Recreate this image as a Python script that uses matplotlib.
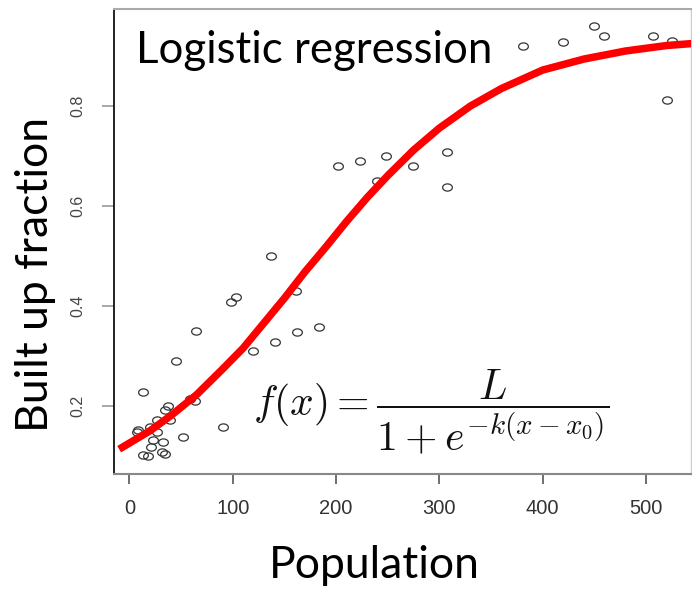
import numpy as np
import matplotlib
matplotlib.use('Agg')
import matplotlib.pyplot as plt
from matplotlib.path import Path

# ---- data ----
pop = [381, 419.6, 449.7, 459.3, 506.8, 525.2, 520.4,
       201.8, 223.1, 248.3, 239.6, 274.4, 307.4, 307.4,
       137, 103.1, 98.3, 64.4, 162.1, 183.4, 140.9, 161.2, 119.6,
       45, 13.1, 58.6, 63.4, 90.5, 37.3, 34.4, 39.2, 26.6, 19.8,
       8.2, 7.3, 26.6, 51.8, 22.7, 32.4, 20.8, 31.5, 34.4, 13.1, 17.9]
built = [0.919, 0.927, 0.959, 0.939, 0.939, 0.929, 0.811,
         0.679, 0.689, 0.699, 0.649, 0.679, 0.707, 0.637,
         0.499, 0.417, 0.407, 0.349, 0.347, 0.357, 0.327, 0.429, 0.309,
         0.289, 0.227, 0.213, 0.209, 0.157, 0.199, 0.191, 0.171, 0.171, 0.157,
         0.151, 0.147, 0.147, 0.137, 0.131, 0.127, 0.117, 0.107, 0.103, 0.101, 0.099]

curve_x = [-10, 20, 40, 65, 90, 110, 130, 150, 170, 190, 210, 230, 250,
           275, 300, 330, 360, 400, 440, 480, 520, 545]
curve_y = [0.113, 0.150, 0.180, 0.222, 0.273, 0.315, 0.365, 0.415, 0.468, 0.517,
           0.568, 0.616, 0.660, 0.711, 0.755, 0.799, 0.834, 0.871, 0.893, 0.909,
           0.920, 0.924]

x_ticks = [0, 100, 200, 300, 400, 500]
y_ticks = [0.2, 0.4, 0.6, 0.8]
y_tick_labels = ["0.2", "0.4", "0.6", "0.8"]

title_text = "Logistic regression"
x_label = "Population"
y_label = "Built up fraction"
formula = r"$f(x) = \dfrac{L}{1+e^{-k(x-x_0)}}$"

# ---- figure ----
W, H = 692, 592
fig = plt.figure(figsize=(W / 100, H / 100), dpi=100)
fig.patch.set_facecolor('white')

ax = fig.add_axes([114 / W, 1 - 474 / H, 577 / W, (474 - 9) / H])
ax.set_xlim(-15, 543.5)
ax.set_ylim(0.0634, 0.993)

# horizontally stretched open circle marker (like the reference)
t = np.linspace(0, 2 * np.pi, 40)
ell = Path(np.column_stack([1.35 * np.cos(t), np.sin(t)]))

ax.plot(pop, built, linestyle='none', marker=ell, markersize=7,
        markerfacecolor='none', markeredgecolor='#333333', markeredgewidth=0.9,
        zorder=2)
ax.plot(curve_x, curve_y, color='#ff0000', linewidth=5.4,
        solid_capstyle='butt', solid_joinstyle='round', zorder=3)

ax.set_xticks(x_ticks)
ax.set_xticklabels([str(v) for v in x_ticks])
ax.set_yticks(y_ticks)
ax.set_yticklabels(y_tick_labels, rotation=90, va='center')

ax.tick_params(axis='x', direction='out', length=7, width=1.2, color='#555555',
               labelsize=14.5, labelcolor='#333333', pad=11)
ax.tick_params(axis='y', direction='out', length=8.5, width=1.2, color='#999999',
               labelsize=11.5, labelcolor='#444444', pad=12)
for lab in ax.get_xticklabels() + ax.get_yticklabels():
    lab.set_family('Liberation Sans')

ax.spines['left'].set_color('#111111')
ax.spines['left'].set_linewidth(1.3)
ax.spines['top'].set_color('#aaaaaa')
ax.spines['top'].set_linewidth(1.5)
ax.spines['bottom'].set_color('#888888')
ax.spines['bottom'].set_linewidth(1.5)
ax.spines['right'].set_color('#cccccc')
ax.spines['right'].set_linewidth(1.0)

# large labels
fig.text(136 / W, 1 - 63 / H, title_text, family='Lato', fontsize=31.5,
         color='black', ha='left', va='baseline')
fig.text(374 / W, 1 - 578 / H, x_label, family='Lato', fontsize=32,
         color='black', ha='center', va='baseline')
fig.text(36 / W, 1 - 275 / H, y_label, family='Lato', fontsize=32,
         color='black', ha='center', va='center', rotation=90)

# formula
plt.rcParams['mathtext.fontset'] = 'cm'
fig.text(431 / W, 1 - 412 / H, formula, fontsize=30, color='#111111',
         ha='center', va='center', math_fontfamily='cm')

fig.savefig('out.png', dpi=100, facecolor='white')
